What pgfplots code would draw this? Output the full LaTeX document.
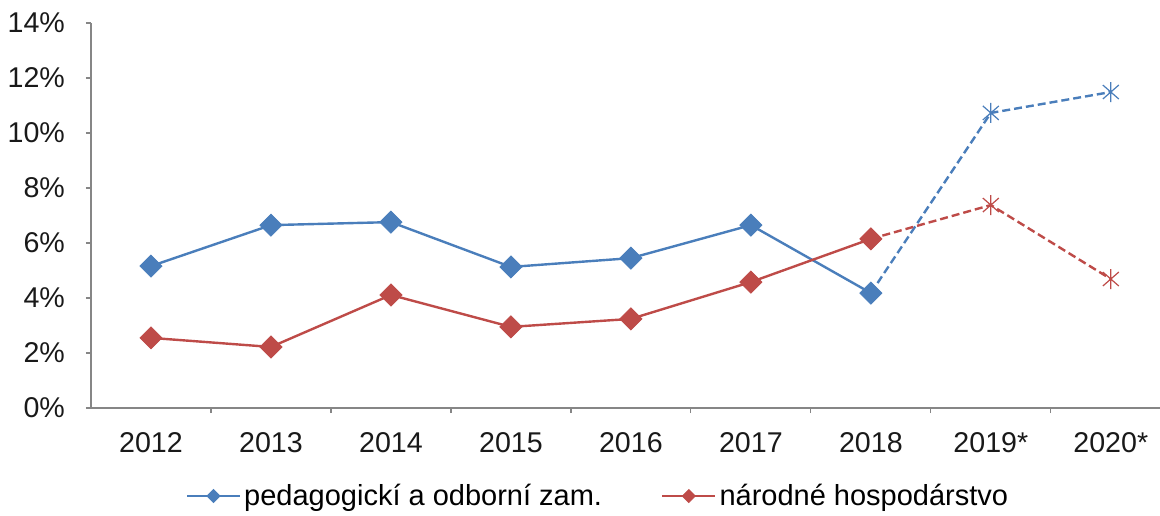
\documentclass[border=0pt]{standalone}
\usepackage{fontspec}
\setmainfont{Liberation Sans}
\usepackage{pgfplots}
\pgfplotsset{compat=1.18}
\definecolor{cblue}{HTML}{4A7EBB}
\definecolor{cred}{HTML}{BE4B48}
\definecolor{cgray}{HTML}{868686}
\pgfdeclareplotmark{xstar}{%
 \pgfpathmoveto{\pgfqpoint{0pt}{\pgfplotmarksize}}\pgfpathlineto{\pgfqpoint{0pt}{-\pgfplotmarksize}}%
 \pgfpathmoveto{\pgfqpoint{-.8\pgfplotmarksize}{.7\pgfplotmarksize}}\pgfpathlineto{\pgfqpoint{.8\pgfplotmarksize}{-.7\pgfplotmarksize}}%
 \pgfpathmoveto{\pgfqpoint{-.8\pgfplotmarksize}{-.7\pgfplotmarksize}}\pgfpathlineto{\pgfqpoint{.8\pgfplotmarksize}{.7\pgfplotmarksize}}%
 \pgfusepathqstroke}
\begin{document}
\begin{tikzpicture}
\path[use as bounding box] (-45.5pt,-53.5pt) rectangle (534.5pt,204pt);
\begin{axis}[
  at={(0,0)}, anchor=south west,
  scale only axis, width=534.5pt, height=192.5pt,
  xmin=-0.5, xmax=8.41, ymin=0, ymax=14,
  axis lines=left, axis line style={cgray, line width=0.6pt, -},
  ytick={0,2,...,14},
  yticklabels={0\%,2\%,4\%,6\%,8\%,10\%,12\%,14\%},
  xtick={0,...,8},
  xticklabels={2012,2013,2014,2015,2016,2017,2018,2019*,2020*},
  minor xtick={0.5,1.5,...,7.5},
  major x tick style={draw=none},
  minor x tick style={cgray, line width=0.6pt},
  y tick style={cgray, line width=0.6pt},
  tick align=outside,
  major tick length=2.5pt, minor tick length=2.5pt,
  tick label style={font=\fontsize{14.3}{17}\selectfont, text=black!90},
  xticklabel style={yshift=-6pt},
  yticklabel style={xshift=-7pt},
  clip=false,
  legend style={at={(0.4747,-0.2286)}, anchor=center, draw=none, fill=none,
    font=\fontsize{14.5}{17}\selectfont, legend columns=2,
    nodes={inner sep=1.5pt},
    /tikz/every even column/.append style={column sep=28pt}},
  legend image code/.code={\draw[#1, mark size=2.3pt, mark repeat=2, mark phase=2] plot coordinates {(0pt,0pt)(13.25pt,0pt)(26.5pt,0pt)};},
]
% dashed projections
\addplot[cblue, line width=1.2pt, dash pattern=on 4pt off 2pt, mark=xstar, mark size=5pt, mark indices={2,3}, mark options={solid, line width=0.6pt}, forget plot]
  coordinates {(6,4.18)(7,10.73)(8,11.49)};
\addplot[cred, line width=1.2pt, dash pattern=on 4pt off 2pt, mark=xstar, mark size=5pt, mark indices={2,3}, mark options={solid, line width=0.6pt}, forget plot]
  coordinates {(6,6.15)(7,7.38)(8,4.69)};
% solid series
\addplot[cblue, line width=1.2pt, mark=square*, mark size=3.9pt, mark options={rotate=45, fill=cblue, draw=cblue, line width=0.4pt}]
  coordinates {(0,5.16)(1,6.65)(2,6.76)(3,5.13)(4,5.45)(5,6.65)(6,4.18)};
\addlegendentry{pedagogickí a odborní zam.}
\addplot[cred, line width=1.2pt, mark=square*, mark size=3.9pt, mark options={rotate=45, fill=cred, draw=cred, line width=0.4pt}]
  coordinates {(0,2.55)(1,2.22)(2,4.11)(3,2.95)(4,3.24)(5,4.58)(6,6.15)};
\addlegendentry{národné hospodárstvo}
\end{axis}
\end{tikzpicture}
\end{document}
